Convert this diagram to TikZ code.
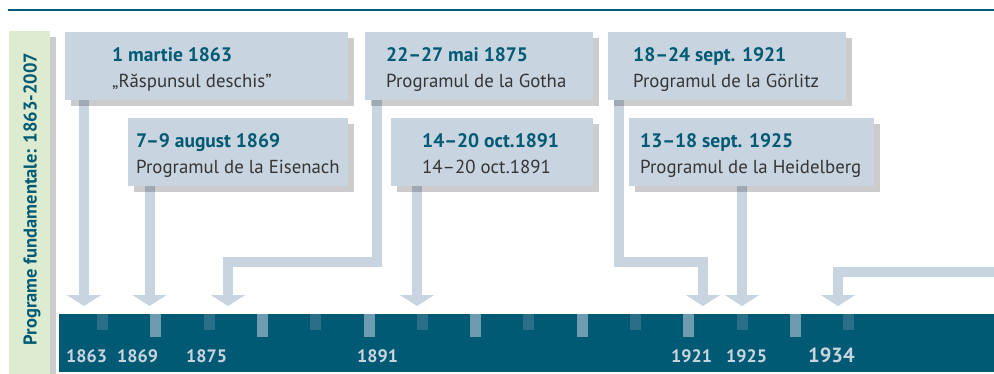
\documentclass[tikz,border=0pt]{standalone}
\usepackage{fontspec}
\setmainfont{PT Sans}
\usetikzlibrary{arrows.meta,shadows,backgrounds}

\definecolor{petrol}{HTML}{005A73}
\definecolor{boxblue}{HTML}{C8D4E0}
\definecolor{bandgreen}{HTML}{DDEBD0}
\definecolor{darktext}{HTML}{353535}
\definecolor{tickdark}{HTML}{2A6E87}
\definecolor{ticklight}{HTML}{6F9BB1}

\tikzset{
  progbox/.style={fill=boxblue, anchor=north west, inner sep=0pt,
    drop shadow={shadow xshift=6pt, shadow yshift=-6pt, fill=black, opacity=.2}},
  datetxt/.style={anchor=base west, inner sep=0pt, text=petrol,
    font=\bfseries\fontsize{19.5}{19.5}\selectfont},
  nametxt/.style={anchor=base west, inner sep=0pt, text=darktext,
    font=\fontsize{18.8}{18.8}\selectfont},
  link/.style={draw=boxblue, line width=10pt, -{Triangle[width=34pt,length=11pt]}},
  yearlbl/.style={anchor=base west, inner sep=0pt, text=boxblue,
    font=\bfseries\fontsize{18}{18}\selectfont}}

\begin{document}
\begin{tikzpicture}[x=1pt, y=-1pt]
    \useasboundingbox (0,0) rectangle (994,373);
    \draw[petrol, line width=2pt] (8,10) -- (994,10);

    % side band
    \node[progbox, fill=bandgreen, minimum width=41pt, minimum height=345pt] (band) at (9,31) {};
    \node[rotate=90, text=petrol, font=\bfseries\fontsize{18.5}{18.5}\selectfont] (title)
        at (32,199) {Programe fundamentale: 1863-2007};

    % boxes
    \node[progbox, minimum width=283pt, minimum height=68pt] (b1) at (65,32) {};
    \node[progbox, minimum width=220pt, minimum height=68pt] (b2) at (128,118) {};
    \node[progbox, minimum width=228pt, minimum height=68pt] (b3) at (365,32) {};
    \node[progbox, minimum width=202pt, minimum height=68pt] (b4) at (391,118) {};
    \node[progbox, minimum width=238pt, minimum height=68pt] (b5) at (608,32) {};
    \node[progbox, minimum width=245pt, minimum height=68pt] (b6) at (629,118) {};

    \node[datetxt] (d1) at (112,61) {1 martie 1863};
    \node[nametxt] (n1) at (112,87) {„Răspunsul deschis”};
    \node[datetxt] (d2) at (136,147) {7–9 august 1869};
    \node[nametxt] (n2) at (136,173) {Programul de la Eisenach};
    \node[datetxt] (d3) at (386,61) {22–27 mai 1875};
    \node[nametxt] (n3) at (386,87) {Programul de la Gotha};
    \node[datetxt] (d4) at (422,147) {14–20 oct.1891};
    \node[nametxt] (n4) at (422,173) {14–20 oct.1891};
    \node[datetxt] (d5) at (633,61) {18–24 sept. 1921};
    \node[nametxt] (n5) at (633,87) {Programul de la Görlitz};
    \node[datetxt] (d6) at (640,147) {13–18 sept. 1925};
    \node[nametxt] (n6) at (640,173) {Programul de la Heidelberg};

    % time axis
    \node[fill=petrol, anchor=north west, inner sep=0pt, minimum width=935pt,
        minimum height=58pt] (bar) at (59,314) {};
    \foreach \k in {0,...,7}
      \fill[tickdark] (97+106.6*\k,314) rectangle ++(11,16);
    \foreach \k in {0,...,6}
      \fill[ticklight] (150.3+106.6*\k,314) rectangle ++(11,23);

    \node[yearlbl] (y1863) at (66,362) {1863};
    \node[yearlbl] (y1869) at (117,362) {1869};
    \node[yearlbl] (y1875) at (186,362) {1875};
    \node[yearlbl] (y1891) at (357,362) {1891};
    \node[yearlbl] (y1921) at (671,362) {1921};
    \node[yearlbl] (y1925) at (726,362) {1925};
    \node[yearlbl, font=\bfseries\fontsize{20.5}{20.5}\selectfont] (y1934) at (808,362) {1934};

    \coordinate (t1863) at (84,306);
    \coordinate (t1869) at (149.5,306);
    \coordinate (t1875) at (228,306);
    \coordinate (t1891) at (417,306);
    \coordinate (t1921) at (703,306);
    \coordinate (t1925) at (742,306);
    \coordinate (t1934) at (838,306);
    \coordinate (e1934) at (994,272);

    % arrows to the axis
    \begin{scope}[on background layer]
    \draw[link] (b1.south -| t1863) -- (t1863);
    \draw[link] (b2.south -| t1869) -- (t1869);
    \draw[link] (b3.south west) ++(12,0) |- ([yshift=44pt]t1875) -- (t1875);
    \draw[link] (b4.south -| t1891) -- (t1891);
    \draw[link] (b5.south west) ++(11,0) |- ([yshift=44pt]t1921) -- (t1921);
    \draw[link] (b6.south -| t1925) -- (t1925);
    \draw[link] (e1934) -| (t1934);
    \end{scope}
\end{tikzpicture}
\end{document}
